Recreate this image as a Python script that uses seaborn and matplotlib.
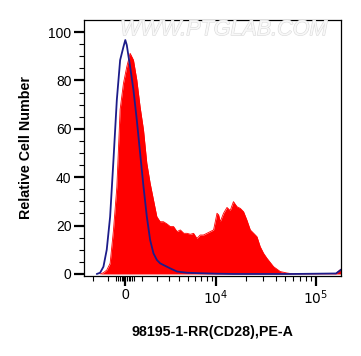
import numpy as np
import pandas as pd
import seaborn as sns
import matplotlib.pyplot as plt
import matplotlib.patheffects as pe

# sample (CD28 stained) histogram, red fill
red_x = [-1520, -1300, -1090, -880, -680, -480, -288, -96, 96, 288, 483, 680, 880,
         1090, 1300, 1520, 1750, 1990, 2240, 2500, 2790, 3090, 3400, 3750, 4100,
         4500, 4900, 5330, 5780, 6280, 6810, 7370, 8000, 8670, 9400, 10200, 10600,
         11000, 11900, 12900, 13900, 15000, 16300, 17600, 19000, 20500, 22200,
         24000, 25900, 27900, 30200, 32600, 38000, 44300, 51700, 60300, 100000,
         160000, 170000, 180000]
red_y = [0, 0.5, 1.6, 4.4, 18, 36, 68, 78.8, 85.7, 91.2, 88.4, 80.2, 69,
         59.5, 45.8, 37.5, 30.6, 23.7, 21.6, 21.6, 20.7, 19.6, 19.6, 17.5, 18.2,
         16.8, 16.8, 16.4, 16.8, 14.7, 16.1, 16.1, 16.8, 17.5, 18.2, 25.1, 24.4,
         21.6, 25.1, 27.5, 26.2, 29.9, 27.8, 27.1, 25.7, 22.3, 18.2,
         16.8, 15.4, 11.3, 8.5, 6.5, 3.0, 1.0, 0.4, 0, 0,
         0.2, 1.2, 2.0]

# isotype control histogram, blue line
ctrl_x = [-1750, -1520, -1300, -1090, -880, -680, -480, -288, -96, 10, 96, 193,
          288, 483, 680, 880, 1090, 1300, 1520, 1750, 1990, 2240, 2500, 2790,
          3090, 3750, 4900, 6810, 10200, 15000, 60000, 160000, 170000, 180000]
ctrl_y = [0, 0.5, 3, 10, 23.7, 47, 72, 88.4, 93.9, 96.7, 94.6, 90,
          85.7, 76, 63.6, 49.9, 36, 23.7, 14, 8.5, 5.8, 4.4, 3.7, 3.0,
          2.3, 1.0, 0.5, 0.3, 0.1, 0, 0, 0.2, 1.0, 1.8]

xticks = [0, 10000, 100000]
xticklabels = ["0", "$10^4$", "$10^5$"]
yticks = [0, 20, 40, 60, 80, 100]

sample = pd.DataFrame({"x": red_x, "y": red_y})
control = pd.DataFrame({"x": ctrl_x, "y": ctrl_y})

sns.set_style("ticks")
plt.rcParams['font.family'] = ['Liberation Sans', 'DejaVu Sans']
plt.rcParams['text.color'] = 'black'
plt.rcParams['axes.labelcolor'] = 'black'

fig = plt.figure(figsize=(3.61, 3.56), dpi=100)
ax = fig.add_axes([0.233, 0.225, 0.712, 0.719])

ax.fill_between(sample.x, sample.y, 0, color="#ff0000", lw=0)
sns.lineplot(data=sample, x="x", y="y", ax=ax, color="#ff0000", lw=0.6, sort=False)
sns.lineplot(data=control, x="x", y="y", ax=ax, color="#1c1c8a", lw=1.3, sort=False)

ax.set_xscale("asinh", linear_width=2500)
ax.set_xlim(-2725, 180000)
ax.set_ylim(-0.8, 105)

ax.set_xticks(xticks)
ax.set_xticklabels(xticklabels)
minor_x = ([-2000, -1000] + list(range(-500, 501, 100)) + list(range(1000, 10000, 1000))
           + list(range(20000, 100000, 10000)))
ax.set_xticks(minor_x, minor=True)
ax.set_yticks(yticks)
ax.set_yticks(np.arange(0, 105, 5), minor=True)

ax.tick_params(axis="both", which="major", length=7, width=1.6, labelsize=10, pad=2,
               colors="black", labelcolor="black")
ax.tick_params(axis="both", which="minor", length=3.5, width=0.8, colors="black")

for s in ax.spines.values():
    s.set_color("black")
    s.set_linewidth(0.9)

ax.set_xlabel("98195-1-RR(CD28),PE-A", fontsize=10.3, fontweight="bold", labelpad=13)
ax.set_ylabel("Relative Cell Number", fontsize=10.3, fontweight="bold", labelpad=11)

ax.text(0.14, 0.962, "WWW.PTGLAB.COM", transform=ax.transAxes, fontsize=15.5,
        color="#f8f8f8", style="italic", ha="left", va="center",
        path_effects=[pe.withStroke(linewidth=0.8, foreground="#dadada")])

fig.savefig("out.png", dpi=100)
